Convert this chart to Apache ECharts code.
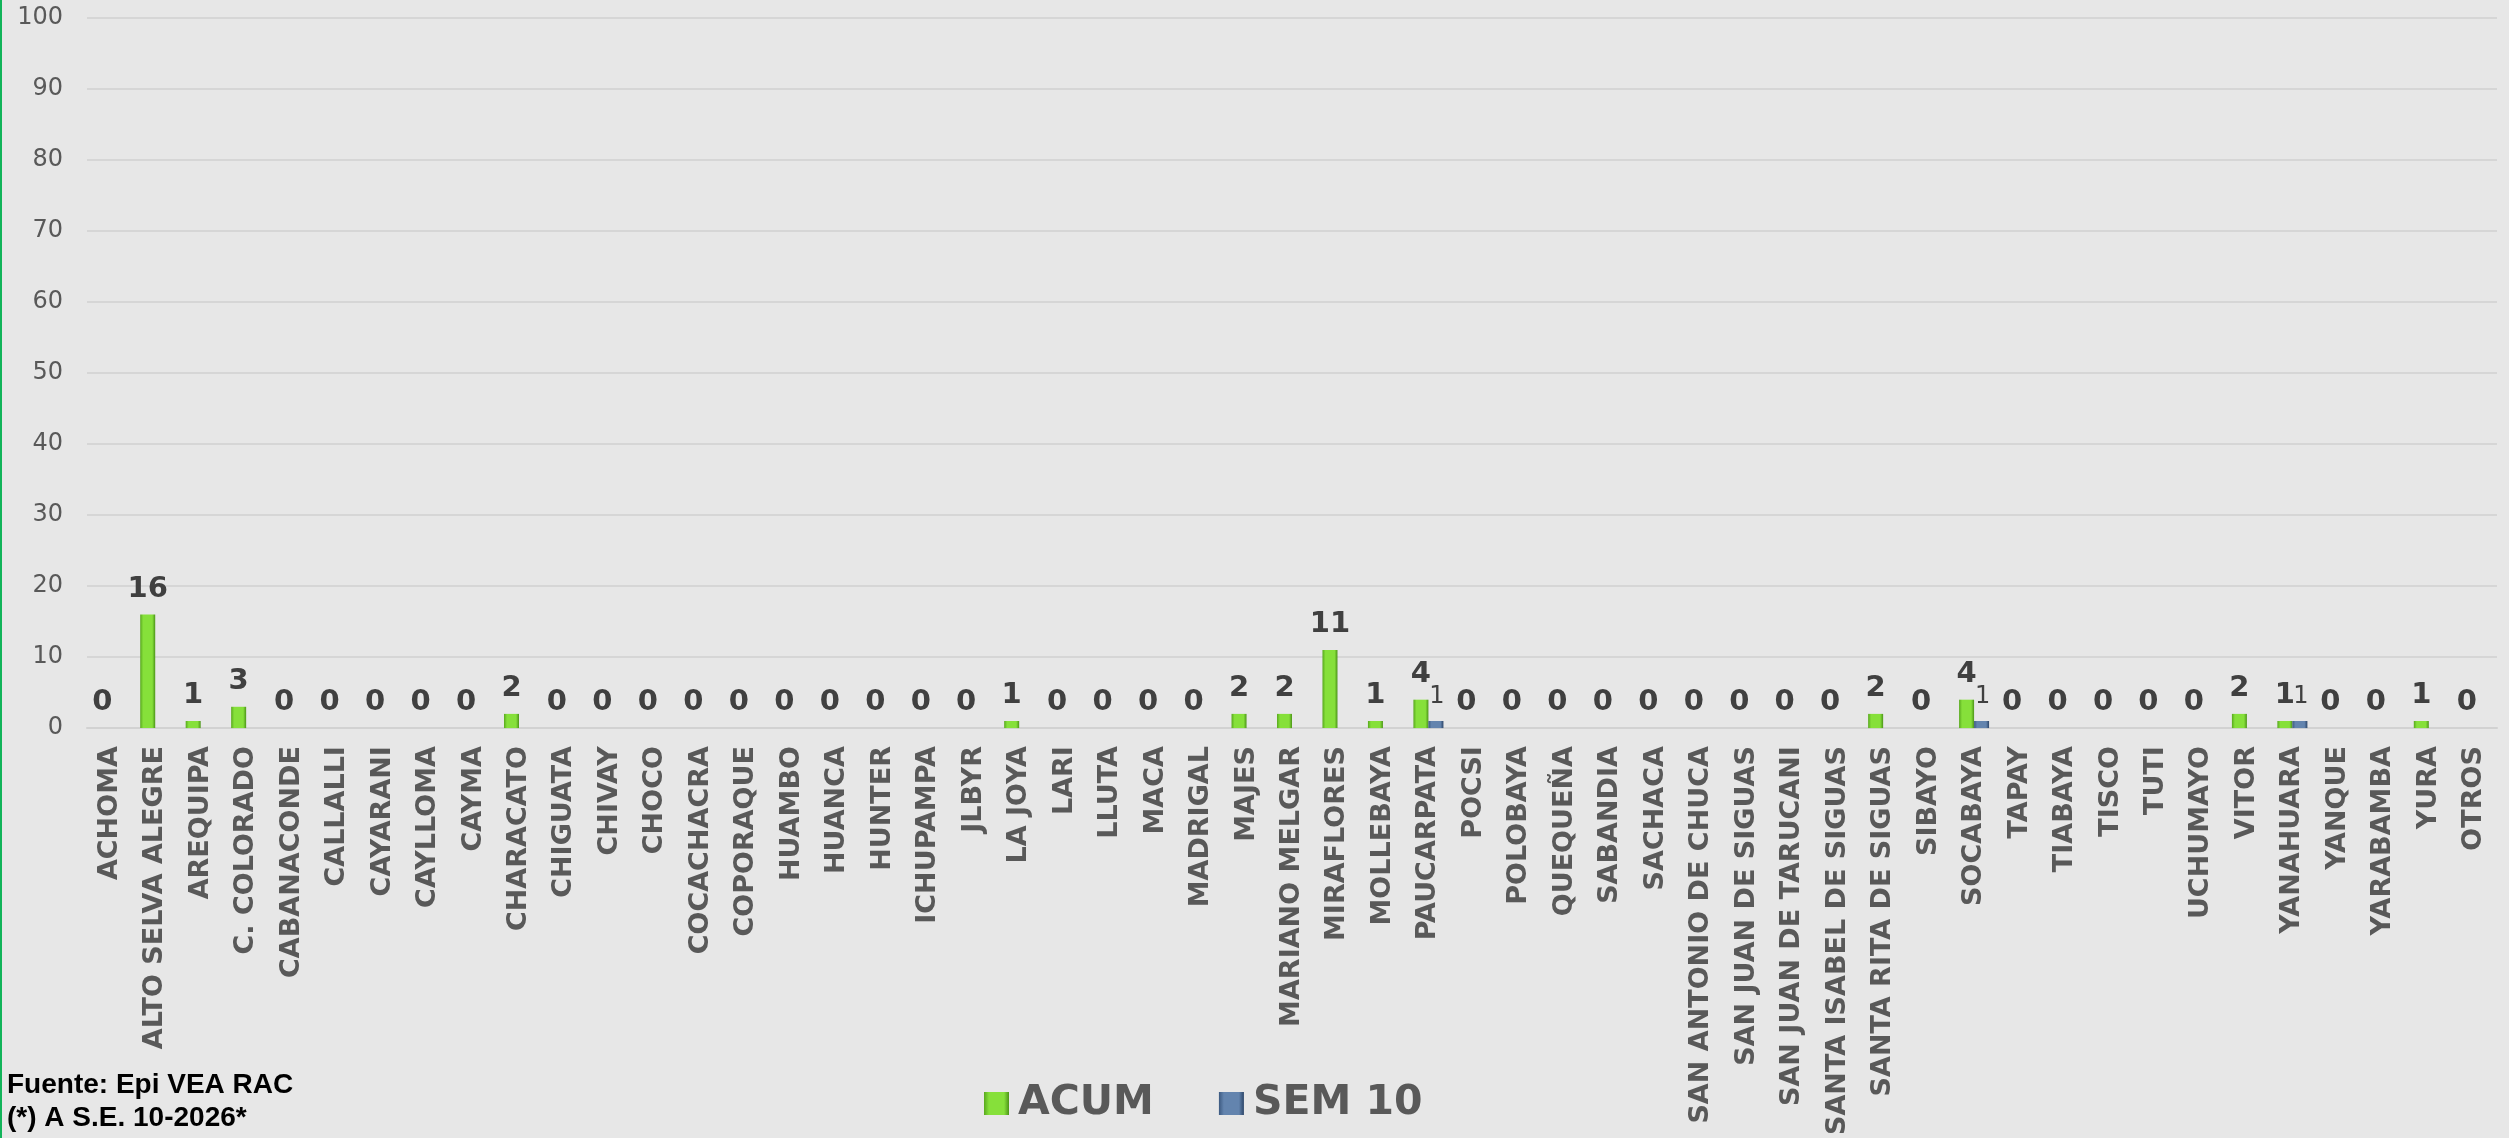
<!DOCTYPE html>
<html>
<head>
<meta charset="utf-8">
<script src="https://cdn.jsdelivr.net/npm/echarts@6/dist/echarts.min.js"></script>
<style>
  html, body { margin: 0; padding: 0; background: #e7e7e7; }
  #chart { width: 2509px; height: 1138px; }
  #edge { position: absolute; left: 0; top: 0; width: 2px; height: 1138px; background: #12b45a; }
</style>
</head>
<body>
<div id="chart"></div>
<div id="edge"></div>
<script>
// Districts (x axis)
const districts = [
  'ACHOMA', 'ALTO SELVA ALEGRE', 'AREQUIPA', 'C. COLORADO', 'CABANACONDE', 'CALLALLI',
  'CAYARANI', 'CAYLLOMA', 'CAYMA', 'CHARACATO', 'CHIGUATA', 'CHIVAY', 'CHOCO',
  'COCACHACRA', 'COPORAQUE', 'HUAMBO', 'HUANCA', 'HUNTER', 'ICHUPAMPA', 'JLBYR',
  'LA JOYA', 'LARI', 'LLUTA', 'MACA', 'MADRIGAL', 'MAJES', 'MARIANO MELGAR',
  'MIRAFLORES', 'MOLLEBAYA', 'PAUCARPATA', 'POCSI', 'POLOBAYA', 'QUEQUEÑA',
  'SABANDIA', 'SACHACA', 'SAN ANTONIO DE CHUCA', 'SAN JUAN DE SIGUAS',
  'SAN JUAN DE TARUCANI', 'SANTA ISABEL DE SIGUAS', 'SANTA RITA DE SIGUAS', 'SIBAYO',
  'SOCABAYA', 'TAPAY', 'TIABAYA', 'TISCO', 'TUTI', 'UCHUMAYO', 'VITOR', 'YANAHUARA',
  'YANQUE', 'YARABAMBA', 'YURA', 'OTROS'
];

// Accumulated cases
const acum = [
  0, 16, 1, 3, 0, 0,
  0, 0, 0, 2, 0, 0, 0,
  0, 0, 0, 0, 0, 0, 0,
  1, 0, 0, 0, 0, 2, 2,
  11, 1, 4, 0, 0, 0,
  0, 0, 0, 0,
  0, 0, 2, 0,
  4, 0, 0, 0, 0, 0, 2, 1,
  0, 0, 1, 0
];

// Cases in epidemiological week 10
const sem10 = [
  0, 0, 0, 0, 0, 0,
  0, 0, 0, 0, 0, 0, 0,
  0, 0, 0, 0, 0, 0, 0,
  0, 0, 0, 0, 0, 0, 0,
  0, 0, 1, 0, 0, 0,
  0, 0, 0, 0,
  0, 0, 0, 0,
  1, 0, 0, 0, 0, 0, 0, 1,
  0, 0, 0, 0
];

const seriesNames = ['ACUM', 'SEM 10'];
const yTicks = { min: 0, max: 100, interval: 10 };

const greenFill = new echarts.graphic.LinearGradient(0, 0, 1, 0, [
  { offset: 0, color: '#58a81e' },
  { offset: 0.2, color: '#86e03a' },
  { offset: 0.8, color: '#86e03a' },
  { offset: 1, color: '#4c9518' }
]);
const blueFill = new echarts.graphic.LinearGradient(0, 0, 1, 0, [
  { offset: 0, color: '#3c5980' },
  { offset: 0.2, color: '#6384ae' },
  { offset: 0.8, color: '#6384ae' },
  { offset: 1, color: '#2c4568' }
]);

const chart = echarts.init(document.getElementById('chart'), null, { renderer: 'canvas' });

chart.setOption({
  backgroundColor: '#e7e7e7',
  animation: false,
  textStyle: { fontFamily: 'DejaVu Sans' },
  grid: { left: 87, right: 12, top: 18, bottom: 409, containLabel: false },
  xAxis: {
    type: 'category',
    data: districts,
    axisLine: { show: true, lineStyle: { color: '#d2d2d2', width: 2 } },
    axisTick: { show: false },
    axisLabel: {
      interval: 0,
      rotate: 90,
      margin: 18,
      color: '#595959',
      fontFamily: 'DejaVu Sans',
      fontWeight: 'bold',
      fontSize: 27
    }
  },
  yAxis: {
    type: 'value',
    min: yTicks.min,
    max: yTicks.max,
    interval: yTicks.interval,
    axisLine: { show: false },
    axisTick: { show: false },
    splitLine: { lineStyle: { color: '#d6d6d6', width: 2 } },
    axisLabel: {
      margin: 24,
      color: '#595959',
      fontFamily: 'DejaVu Sans',
      fontSize: 24
    }
  },
  legend: {
    left: 979,
    top: 1078,
    itemWidth: 25,
    itemHeight: 23,
    itemGap: 65,
    icon: 'rect',
    textStyle: {
      color: '#595959',
      fontFamily: 'DejaVu Sans',
      fontWeight: 'bold',
      fontSize: 41,
      padding: [0, 0, 0, 4]
    },
    data: seriesNames
  },
  series: [
    {
      name: seriesNames[0],
      type: 'bar',
      data: acum,
      barWidth: 15,
      barGap: '0%',
      itemStyle: { color: greenFill },
      label: {
        show: true,
        position: 'top',
        distance: 11,
        color: '#404040',
        fontFamily: 'DejaVu Sans',
        fontWeight: 'bold',
        fontSize: 29
      }
    },
    {
      name: seriesNames[1],
      type: 'bar',
      data: sem10,
      barWidth: 15,
      barGap: '0%',
      itemStyle: { color: blueFill },
      label: {
        show: true,
        position: 'top',
        distance: 12,
        offset: [1, 0],
        color: '#404040',
        fontFamily: 'DejaVu Sans',
        fontSize: 24,
        formatter: p => (p.value > 0 ? String(p.value) : '')
      }
    }
  ],
  graphic: [
    {
      type: 'text',
      left: 7,
      top: 1071,
      style: {
        text: 'Fuente: Epi VEA RAC',
        fill: '#000000',
        font: 'bold 28px "Liberation Sans", Arial, sans-serif'
      }
    },
    {
      type: 'text',
      left: 7,
      top: 1104,
      style: {
        text: '(*) A S.E. 10-2026*',
        fill: '#000000',
        font: 'bold 28px "Liberation Sans", Arial, sans-serif'
      }
    }
  ]
});
</script>
</body>
</html>
